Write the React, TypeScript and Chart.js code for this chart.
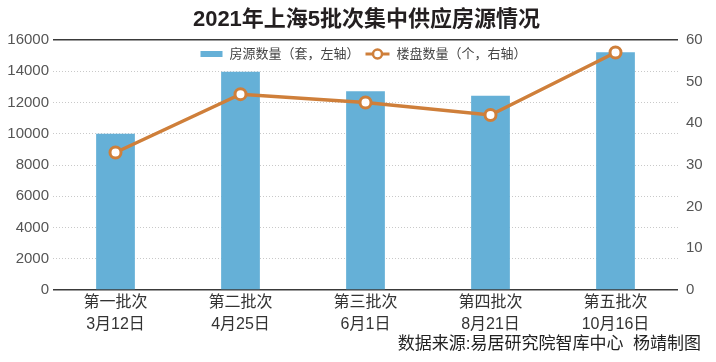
import React, { useEffect, useRef } from "react";
import { Chart, registerables } from "chart.js";

Chart.register(...registerables);

const TITLE = "2021年上海5批次集中供应房源情况";
const SOURCE = "数据来源:易居研究院智库中心  杨靖制图";
const batchNames = ["第一批次", "第二批次", "第三批次", "第四批次", "第五批次"];
const batchDates = ["3月12日", "4月25日", "6月1日", "8月21日", "10月16日"];
const housingUnits = [10000, 13970, 12720, 12430, 15210];
const projectCounts = [33, 47, 45, 42, 57];
const barLabel = "房源数量（套，左轴）";
const lineLabel = "楼盘数量（个，右轴）";

const BLUE = "#65b0d7";
const ORANGE = "#cf7f3a";
const FONT = '"Liberation Sans", "Noto Sans CJK SC", sans-serif';

const decorPlugin = {
  id: "decor",
  afterDraw(chart: any) {
    const ctx = chart.ctx as CanvasRenderingContext2D;
    const area = chart.chartArea;
    const cx = (area.left + area.right) / 2;
    ctx.save();
    // title
    ctx.fillStyle = "#231f20";
    ctx.font = `bold 22px ${FONT}`;
    ctx.textAlign = "center";
    ctx.textBaseline = "middle";
    ctx.fillText(TITLE, cx + 1, 20);

    // legend
    ctx.font = `13px ${FONT}`;
    const w1 = ctx.measureText(barLabel).width;
    const w2 = ctx.measureText(lineLabel).width;
    const total = 22 + 7 + w1 + 6 + 24 + 7 + w2;
    let x = cx - 2 - total / 2;
    const ly = 54;
    ctx.fillStyle = BLUE;
    ctx.fillRect(x, ly - 3, 22, 6);
    x += 22 + 7;
    ctx.fillStyle = "#444";
    ctx.textAlign = "left";
    ctx.fillText(barLabel, x, ly);
    x += w1 + 6;
    ctx.strokeStyle = ORANGE;
    ctx.lineWidth = 3;
    ctx.beginPath();
    ctx.moveTo(x, ly);
    ctx.lineTo(x + 24, ly);
    ctx.stroke();
    ctx.beginPath();
    ctx.arc(x + 12, ly, 4.5, 0, Math.PI * 2);
    ctx.fillStyle = "#fff";
    ctx.fill();
    ctx.lineWidth = 2.5;
    ctx.stroke();
    x += 24 + 7;
    ctx.fillStyle = "#444";
    ctx.fillText(lineLabel, x, ly);

    // source
    ctx.font = `17px ${FONT}`;
    ctx.fillStyle = "#222";
    ctx.textAlign = "right";
    ctx.fillText(SOURCE, 701, 344);
    ctx.restore();
  },
};

export default function App() {
  const ref = useRef<HTMLCanvasElement | null>(null);
  useEffect(() => {
    document.body.style.margin = "0";
    const labels = batchNames.map((n, i) => [n, batchDates[i]]);
    const chart = new Chart(ref.current as HTMLCanvasElement, {
      type: "bar",
      data: {
        labels,
        datasets: [
          {
            type: "line",
            label: lineLabel,
            data: projectCounts,
            yAxisID: "y1",
            borderColor: ORANGE,
            borderWidth: 3.5,
            pointRadius: 5.5,
            pointBorderWidth: 3,
            pointBackgroundColor: "#fff",
            pointBorderColor: ORANGE,
            tension: 0,
            order: 0,
          } as any,
          {
            type: "bar",
            label: barLabel,
            data: housingUnits,
            yAxisID: "y",
            backgroundColor: BLUE,
            barPercentage: 0.31,
            categoryPercentage: 1,
            order: 1,
          },
        ],
      },
      options: {
        animation: false,
        responsive: false,
        layout: { padding: { top: 40, left: 0, right: 0, bottom: 0 } },
        plugins: {
          legend: { display: false },
          title: { display: false },
          tooltip: { enabled: false },
        },
        scales: {
          x: {
            offset: true,
            grid: { display: false },
            border: { display: false },
            ticks: {
              color: "#333",
              font: { family: FONT, size: 16, lineHeight: 1.34 },
              padding: -6,
              maxRotation: 0,
              autoSkip: false,
            },
            afterFit(scale: any) {
              scale.height = 72;
            },
          },
          y: {
            position: "left",
            min: 0,
            max: 16000,
            ticks: {
              stepSize: 2000,
              color: "#555",
              font: { family: FONT, size: 15 },
              padding: 4,
              callback: (v: any) => String(v),
            },
            grid: {
              drawTicks: false,
              color: (c: any) =>
                c.tick && (c.tick.value === 0 || c.tick.value === 16000) ? "#3a3a3a" : "#c9c9c9",
              lineWidth: (c: any) =>
                c.tick && (c.tick.value === 0 || c.tick.value === 16000) ? 1.6 : 1,
            },
            border: {
              display: false,
              dash: (c: any) =>
                c.tick && (c.tick.value === 0 || c.tick.value === 16000) ? [] : [1, 2],
            } as any,
            afterFit(scale: any) {
              scale.width = 53;
            },
          },
          y1: {
            position: "right",
            min: 0,
            max: 60,
            ticks: {
              stepSize: 10,
              color: "#555",
              font: { family: FONT, size: 15 },
              padding: 8,
              callback: (v: any) => String(v),
            },
            grid: { display: false, drawTicks: false },
            border: { display: false },
            afterFit(scale: any) {
              scale.width = 38;
            },
          },
        },
      },
      plugins: [decorPlugin],
    });
    return () => chart.destroy();
  }, []);
  return (
    <div style={{ width: 716, height: 362, background: "#fff" }}>
      <canvas ref={ref} width={716} height={362} style={{ display: "block" }} />
    </div>
  );
}
